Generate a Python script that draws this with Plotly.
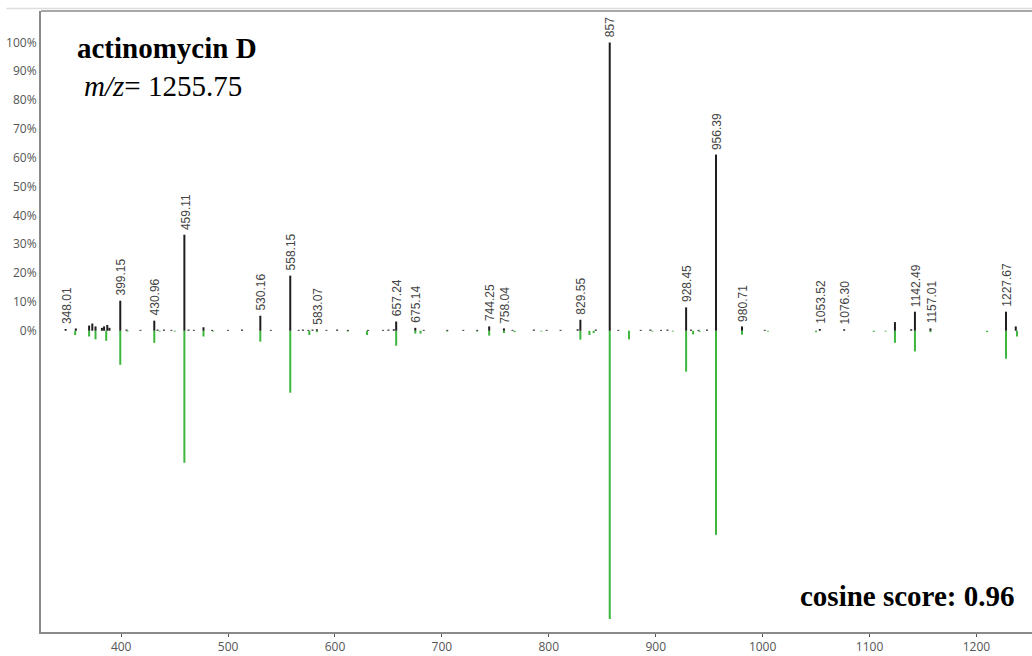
import plotly.graph_objects as go

# Labelled experimental peaks: m/z, relative intensity (%)
label_mz = [348.01, 399.15, 430.96, 459.11, 530.16, 558.15, 583.07, 657.24,
            675.14, 744.25, 758.04, 829.55, 857, 928.45, 956.39, 980.71,
            1053.52, 1076.30, 1142.49, 1157.01, 1227.67]
label_int = [0.6, 10.4, 3.5, 33.3, 5.2, 19.1, 0.5, 3.2,
             1.0, 1.5, 0.8, 3.8, 100, 8.1, 61.1, 1.5,
             0.6, 0.5, 6.6, 0.8, 6.6]

# Unlabelled experimental peaks
exp_mz = [357.6, 370, 373, 376, 382, 384, 387, 389, 405, 418, 434, 440, 447,
          463, 468, 477, 485, 500, 513, 540, 566, 570, 575, 579, 592, 602, 612,
          631, 645, 650, 655, 683, 705, 720, 733, 766, 786, 798, 811, 827, 844,
          865, 886, 895, 905, 911, 933, 940, 948, 1002, 1123.8, 1139, 1236.8]
exp_int = [0.8, 1.8, 2.5, 1.5, 1.0, 1.5, 2.0, 1.0, 0.4, 0.3, 0.4, 0.4, 0.3,
           0.4, 0.3, 1.2, 0.3, 0.3, 0.4, 0.3, 0.3, 0.4, 0.3, 0.4, 0.3, 0.4, 0.3,
           0.3, 0.3, 0.4, 0.5, 0.3, 0.3, 0.3, 0.3, 0.3, 0.4, 0.3, 0.3, 0.5, 0.4,
           0.3, 0.3, 0.4, 0.3, 0.4, 0.4, 0.3, 0.4, 0.3, 3.0, 0.5, 1.5]

# Library spectrum (mirrored below the axis)
lib_mz = [357, 370, 376, 386, 399.15, 406, 430.96, 436, 450, 459.11, 477, 486,
          530.16, 558.15, 576, 583.07, 612, 630, 657.24, 675.14, 680, 705, 733,
          744.25, 758.04, 768, 793, 829.55, 838, 842, 857, 875, 897, 916,
          928.45, 935, 941, 956.39, 980.71, 1005, 1050, 1104, 1115, 1123.8,
          1142.49, 1157.01, 1210, 1227.67, 1238]
lib_int = [1.5, 2.0, 3.0, 3.5, 11.8, 0.3, 4.2, 0.3, 0.3, 45.8, 2.0, 0.3,
           3.8, 21.5, 1.5, 0.5, 0.3, 1.5, 5.2, 1.0, 1.0, 0.3, 0.3,
           1.7, 0.8, 0.5, 0.3, 3.1, 1.5, 0.8, 100, 3.0, 0.3, 0.3,
           14.2, 1.3, 0.4, 70.8, 1.4, 0.3, 0.5, 0.4, 0.3, 4.2,
           7.2, 0.5, 0.5, 9.7, 2.0]

x_ticks = [400, 500, 600, 700, 800, 900, 1000, 1100, 1200]
y_ticks = [0, 10, 20, 30, 40, 50, 60, 70, 80, 90, 100]


def stems(xs, hs, sign=1):
    px, py = [], []
    for x, h in zip(xs, hs):
        px += [x, x, None]
        py += [0, sign * h, None]
    return px, py


def fmt(v):
    s = f"{v:.2f}"
    return s[:-3] if s.endswith(".00") else s


fig = go.Figure()

lx, ly = stems(lib_mz, lib_int, -1)
fig.add_trace(go.Scatter(x=lx, y=ly, mode="lines",
                         line=dict(color="#3cb63c", width=2),
                         hoverinfo="skip", showlegend=False))

ex, ey = stems(exp_mz + label_mz, exp_int + label_int, 1)
fig.add_trace(go.Scatter(x=ex, y=ey, mode="lines",
                         line=dict(color="#1e1e1e", width=2),
                         hoverinfo="skip", showlegend=False))

for mz, h in zip(label_mz, label_int):
    fig.add_annotation(x=mz, y=h, text=fmt(mz), showarrow=False,
                       textangle=-90, xanchor="center", yanchor="bottom",
                       yshift=3, xshift=1,
                       font=dict(family="Liberation Sans, Arial", size=12,
                                 color="#444444"))

serif = "Liberation Serif, Times New Roman, serif"
fig.add_annotation(xref="paper", yref="paper", x=0.034, y=0.941,
                   xanchor="left", yanchor="middle", showarrow=False,
                   text="<b>actinomycin D</b>",
                   font=dict(family=serif, size=29, color="black"))
fig.add_annotation(xref="paper", yref="paper", x=0.041, y=0.879,
                   xanchor="left", yanchor="middle", showarrow=False,
                   text="<i>m/z</i>= 1255.75",
                   font=dict(family=serif, size=29, color="black"))
fig.add_annotation(xref="paper", yref="paper", x=0.985, y=0.058,
                   xanchor="right", yanchor="middle", showarrow=False,
                   text="<b>cosine score: 0.96</b>",
                   font=dict(family=serif, size=29, color="black"))

# frame lines above the plotting area
fig.add_shape(type="line", xref="paper", yref="paper", x0=-0.035, x1=1,
              y0=1.004, y1=1.004, line=dict(color="#dddddd", width=1.5))
fig.add_shape(type="line", xref="paper", yref="paper", x0=0, x1=1,
              y0=1, y1=1, line=dict(color="#8a8a8a", width=1.5))

fig.update_layout(
    width=1032, height=656,
    margin=dict(l=41, r=0, t=11, b=24),
    paper_bgcolor="white", plot_bgcolor="white",
    xaxis=dict(range=[325, 1252], tickvals=x_ticks,
               ticktext=[str(v) for v in x_ticks],
               showgrid=False, zeroline=False, showline=True,
               linecolor="#8a8a8a", linewidth=2,
               ticks="outside", ticklen=3, tickcolor="#555555",
               tickfont=dict(family="Open Sans, sans-serif", size=12,
                             color="#555555")),
    yaxis=dict(range=[-104.5, 110.9], tickvals=y_ticks,
               ticktext=[f"{v}%" for v in y_ticks],
               showgrid=False, zeroline=False, showline=True,
               linecolor="#8a8a8a", linewidth=2, ticks="",
               ticklabelstandoff=0,
               tickfont=dict(family="Open Sans, sans-serif", size=12,
                             color="#555555")),
)

fig.write_html("out.html")
